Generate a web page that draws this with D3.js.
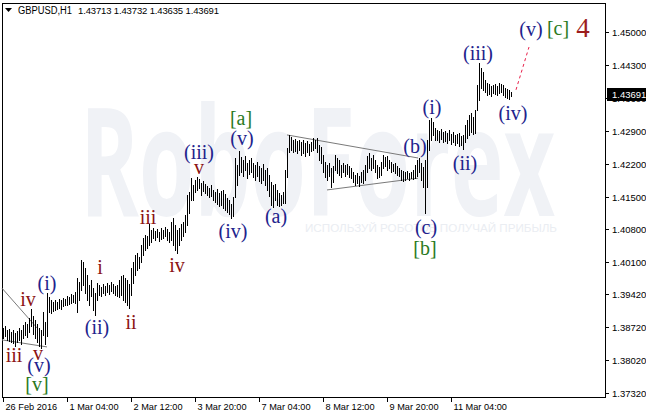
<!DOCTYPE html>
<html>
<head>
<meta charset="utf-8">
<script src="https://cdn.jsdelivr.net/npm/d3@7/dist/d3.min.js"></script>
<style>
  body { margin: 0; background: #fff; }
  svg { display: block; }
</style>
</head>
<body>
<div id="chart"></div>
<script>
// GBPUSD H1 bars, high/low of each hour
var highs = [
  1.3870,1.3874,1.3866,1.3868,1.3862,1.3866,1.3860,1.3864,1.3870,1.3866,
  1.3877,1.3883,1.3879,1.3891,1.3911,1.3896,1.3887,1.3879,1.3870,1.3866,
  1.3904,1.3883,1.3945,1.3936,1.3930,1.3926,1.3930,1.3926,1.3932,1.3930,
  1.3934,1.3932,1.3938,1.3936,1.3943,1.3940,1.3947,1.3977,1.3968,1.4015,
  1.4011,1.3998,1.3983,1.3962,1.3972,1.3955,1.3945,1.3966,1.3962,1.3957,
  1.3964,1.3960,1.3966,1.3962,1.3968,1.3964,1.3960,1.3962,1.3972,1.3981,
  1.3983,1.3977,1.3972,1.3964,1.3998,1.4011,1.4026,1.4030,1.4021,1.4047,
  1.4062,1.4068,1.4066,1.4091,1.4079,1.4083,1.4077,1.4081,1.4074,1.4083,
  1.4079,1.4085,1.4081,1.4074,1.4096,1.4104,1.4089,1.4079,1.4083,1.4091,
  1.4096,1.4111,1.4153,1.4160,1.4189,1.4174,1.4185,1.4192,1.4187,1.4179,
  1.4183,1.4177,1.4172,1.4168,1.4174,1.4164,1.4160,1.4166,1.4157,1.4162,
  1.4164,1.4155,1.4147,1.4143,1.4134,1.4149,1.4232,1.4217,1.4247,1.4234,
  1.4228,1.4236,1.4221,1.4228,1.4232,1.4221,1.4217,1.4223,1.4215,1.4211,
  1.4219,1.4206,1.4211,1.4196,1.4181,1.4174,1.4177,1.4164,1.4157,1.4153,
  1.4160,1.4206,1.4253,1.4281,1.4277,1.4270,1.4272,1.4268,1.4270,1.4266,
  1.4270,1.4264,1.4268,1.4262,1.4266,1.4274,1.4270,1.4274,1.4260,1.4255,
  1.4238,1.4223,1.4217,1.4221,1.4211,1.4215,1.4238,1.4232,1.4228,1.4217,
  1.4221,1.4217,1.4219,1.4215,1.4211,1.4202,1.4196,1.4200,1.4194,1.4202,
  1.4206,1.4217,1.4236,1.4243,1.4232,1.4238,1.4228,1.4217,1.4213,1.4223,
  1.4238,1.4234,1.4236,1.4228,1.4223,1.4219,1.4221,1.4215,1.4211,1.4206,
  1.4204,1.4202,1.4204,1.4200,1.4202,1.4206,1.4217,1.4228,1.4232,1.4221,
  1.4213,1.4228,1.4270,1.4313,1.4317,1.4308,1.4296,1.4291,1.4289,1.4294,
  1.4287,1.4289,1.4285,1.4291,1.4283,1.4287,1.4281,1.4283,1.4285,1.4279,
  1.4281,1.4302,1.4313,1.4323,1.4328,1.4319,1.4334,1.4387,1.4434,1.4423,
  1.4415,1.4398,1.4391,1.4389,1.4385,1.4387,1.4389,1.4385,1.4391,1.4389,
  1.4387,1.4381,1.4379,1.4377,1.43732
];
var lows = [
  1.3849,1.3853,1.3845,1.3843,1.3840,1.3838,1.3832,1.3840,1.3845,1.3836,
  1.3849,1.3855,1.3851,1.3862,1.3874,1.3857,1.3849,1.3840,1.3832,1.3828,
  1.3855,1.3836,1.3853,1.3904,1.3902,1.3906,1.3909,1.3911,1.3913,1.3911,
  1.3917,1.3919,1.3919,1.3921,1.3923,1.3926,1.3923,1.3904,1.3930,1.3951,
  1.3962,1.3945,1.3930,1.3919,1.3938,1.3909,1.3898,1.3930,1.3940,1.3938,
  1.3945,1.3940,1.3947,1.3943,1.3949,1.3945,1.3940,1.3938,1.3936,1.3940,
  1.3930,1.3926,1.3919,1.3913,1.3940,1.3966,1.3983,1.3994,1.3998,1.4011,
  1.4026,1.4036,1.4040,1.4047,1.4053,1.4062,1.4057,1.4064,1.4055,1.4060,
  1.4062,1.4066,1.4057,1.4053,1.4057,1.4047,1.4036,1.4030,1.4047,1.4057,
  1.4066,1.4074,1.4089,1.4115,1.4143,1.4143,1.4160,1.4164,1.4168,1.4153,
  1.4162,1.4157,1.4153,1.4149,1.4151,1.4143,1.4138,1.4134,1.4130,1.4132,
  1.4126,1.4121,1.4117,1.4113,1.4104,1.4109,1.4149,1.4174,1.4196,1.4202,
  1.4194,1.4206,1.4189,1.4198,1.4202,1.4192,1.4185,1.4194,1.4183,1.4179,
  1.4185,1.4174,1.4164,1.4151,1.4132,1.4128,1.4143,1.4132,1.4130,1.4132,
  1.4136,1.4136,1.4192,1.4245,1.4249,1.4245,1.4247,1.4243,1.4249,1.4238,
  1.4243,1.4236,1.4245,1.4238,1.4247,1.4249,1.4253,1.4245,1.4228,1.4221,
  1.4202,1.4192,1.4185,1.4194,1.4170,1.4181,1.4206,1.4200,1.4196,1.4192,
  1.4202,1.4194,1.4198,1.4192,1.4189,1.4181,1.4174,1.4179,1.4172,1.4181,
  1.4179,1.4185,1.4202,1.4211,1.4206,1.4211,1.4202,1.4189,1.4192,1.4196,
  1.4211,1.4215,1.4206,1.4211,1.4202,1.4204,1.4200,1.4196,1.4194,1.4185,
  1.4183,1.4185,1.4189,1.4185,1.4189,1.4187,1.4189,1.4194,1.4202,1.4185,
  1.4170,1.4115,1.4170,1.4249,1.4270,1.4281,1.4270,1.4270,1.4266,1.4272,
  1.4266,1.4268,1.4264,1.4270,1.4262,1.4266,1.4260,1.4264,1.4257,1.4260,
  1.4251,1.4266,1.4274,1.4281,1.4287,1.4283,1.4285,1.4334,1.4355,1.4381,
  1.4377,1.4372,1.4366,1.4368,1.4364,1.4370,1.4368,1.4366,1.4370,1.4372,
  1.4366,1.4362,1.4360,1.4357,1.43635
];

var symbol = "GBPUSD,H1";
var ohlc = ["1.43713", "1.43732", "1.43635", "1.43691"];
var lastPrice = 1.43691;

// price axis
var priceTicks = [1.4500, 1.4430, 1.4360, 1.4290, 1.4220, 1.4150, 1.4080, 1.4010, 1.3942, 1.3872, 1.3802, 1.3732];

// time axis: bar index of each label
var timeTickBars = [0, 32, 64, 96, 128, 160, 192, 224];
var timeTickLabels = ["26 Feb 2016", "1 Mar 04:00", "2 Mar 12:00", "3 Mar 20:00", "7 Mar 04:00", "8 Mar 12:00", "9 Mar 20:00", "11 Mar 04:00"];

// Elliott wave marks: text, bar index, price level, kind
var waveText  = ["iii", "v", "(v)", "[v]", "iv", "(i)", "i", "(ii)", "ii", "iii", "iv", "v", "(iii)", "(iv)", "(v)", "[a]", "(a)", "(b)", "(c)", "[b]", "(i)", "(ii)", "(iii)", "(iv)", "(v)", "[c]", "4"];
var waveBar   = [5.5, 17.5, 18, 17, 12.5, 22, 48.5, 47, 64, 72.5, 87, 98, 98, 115, 119.5, 119, 136.5, 206, 211.5, 211, 214.5, 231, 237.5, 255, 264, 277.5, 290];
var wavePrice = [1.3813, 1.3817, 1.3791, 1.3751, 1.3932, 1.3966, 1.4000, 1.3872, 1.3883, 1.4107, 1.4004, 1.4213, 1.4245, 1.4077, 1.4274, 1.4317, 1.4109, 1.4257, 1.4085, 1.4040, 1.4340, 1.4221, 1.4456, 1.4328, 1.4506, 1.4508, 1.4508];
var waveKind  = ["minor", "minor", "minute", "minuette", "minor", "minute", "minor", "minute", "minor", "minor", "minor", "minor", "minute", "minute", "minute", "minuette", "minute", "minute", "minute", "minuette", "minute", "minute", "minute", "minute", "minute", "minuette", "big"];

// trend lines [bar1, price1, bar2, price2]
var trendLines = [
  [-0.5, 1.3955, 17.5, 1.3868],
  [-0.5, 1.3845, 22, 1.3830],
  [142, 1.4281, 207.5, 1.4232],
  [162, 1.4164, 207.5, 1.4189]
];
var forecast = [256.5, 1.4377, 263, 1.4468];

var W = 646, H = 414;
var frame = { left: 2, top: 3, right: 605, bottom: 397 };

var svg = d3.select("#chart").append("svg")
    .attr("width", W)
    .attr("height", H)
    .style("font-family", "'Liberation Sans', Arial, sans-serif");

svg.append("rect").attr("width", W).attr("height", H).attr("fill", "#fff");

var x = d3.scaleLinear().domain([0, 254]).range([3, 511]);
var y = d3.scaleLinear().domain([1.3732, 1.4500]).range([393, 32]);

// watermark
svg.append("text")
    .attr("x", 80).attr("y", 216)
    .attr("textLength", 475).attr("lengthAdjust", "spacingAndGlyphs")
    .style("font-family", "'Open Sans', sans-serif")
    .style("font-weight", 700)
    .style("font-size", "150px")
    .attr("fill", "#f0f2f6")
    .text("RoboForex");
svg.append("text")
    .attr("x", 305).attr("y", 232)
    .attr("textLength", 252).attr("lengthAdjust", "spacingAndGlyphs")
    .style("font-size", "11px")
    .attr("fill", "#eaedf2")
    .text("ИСПОЛЬЗУЙ РОБОТОВ ПОЛУЧАЙ ПРИБЫЛЬ");

// frame
svg.append("rect")
    .attr("x", frame.left + 0.5).attr("y", frame.top + 0.5)
    .attr("width", frame.right - frame.left).attr("height", frame.bottom - frame.top)
    .attr("fill", "none").attr("stroke", "#000");

// price axis
var yAxis = svg.append("g");
priceTicks.forEach(function (p) {
    var ty = Math.round(y(p)) + 0.5;
    yAxis.append("line")
        .attr("x1", frame.right).attr("x2", frame.right + 4)
        .attr("y1", ty).attr("y2", ty)
        .attr("stroke", "#000");
    yAxis.append("text")
        .attr("x", frame.right + 7).attr("y", ty + 3.5)
        .style("font-size", "9.5px")
        .text(p.toFixed(5));
});

// time axis
var xAxis = svg.append("g");
timeTickBars.forEach(function (b, i) {
    var tx = Math.round(x(b)) + 0.5;
    xAxis.append("line")
        .attr("x1", tx).attr("x2", tx)
        .attr("y1", frame.bottom).attr("y2", frame.bottom + 5)
        .attr("stroke", "#000");
    xAxis.append("text")
        .attr("x", tx + 2).attr("y", frame.bottom + 13)
        .style("font-size", "9.2px")
        .text(timeTickLabels[i]);
});

// trend lines
svg.append("g").selectAll("line")
    .data(trendLines)
    .enter().append("line")
    .attr("x1", function (d) { return x(d[0]); })
    .attr("y1", function (d) { return y(d[1]); })
    .attr("x2", function (d) { return x(d[2]); })
    .attr("y2", function (d) { return y(d[3]); })
    .attr("stroke", "#7a7a7a")
    .attr("stroke-width", 1);

// bars
svg.append("g").selectAll("line")
    .data(highs)
    .enter().append("line")
    .attr("x1", function (d, i) { return Math.round(x(i)) + 0.5; })
    .attr("x2", function (d, i) { return Math.round(x(i)) + 0.5; })
    .attr("y1", function (d) { return Math.round(y(d)); })
    .attr("y2", function (d, i) { return Math.round(y(lows[i])) + 1; })
    .attr("stroke", "#000")
    .attr("stroke-width", 1);

// forecast
svg.append("line")
    .attr("x1", x(forecast[0])).attr("y1", y(forecast[1]))
    .attr("x2", x(forecast[2])).attr("y2", y(forecast[3]))
    .attr("stroke", "#e8204a")
    .attr("stroke-dasharray", "3,3");

// wave labels
var waveColor = { minor: "#8b1313", minute: "#22228c", minuette: "#2a7a22", big: "#9c1c1c" };
var waveSize = { minor: 20, minute: 20, minuette: 20, big: 27 };
svg.append("g").selectAll("text")
    .data(waveText)
    .enter().append("text")
    .attr("x", function (d, i) { return x(waveBar[i]); })
    .attr("y", function (d, i) { return y(wavePrice[i]); })
    .attr("text-anchor", "middle")
    .attr("dominant-baseline", "central")
    .style("font-family", "'Liberation Serif', 'Times New Roman', serif")
    .style("font-size", function (d, i) { return waveSize[waveKind[i]] + "px"; })
    .attr("fill", function (d, i) { return waveColor[waveKind[i]]; })
    .text(function (d) { return d; });

// last price box
var ly = Math.round(y(lastPrice));
svg.append("rect")
    .attr("x", frame.right + 2).attr("y", ly - 6)
    .attr("width", 40).attr("height", 13)
    .attr("fill", "#000");
svg.append("text")
    .attr("x", frame.right + 7).attr("y", ly + 4)
    .style("font-size", "9.5px")
    .attr("fill", "#fff")
    .text(lastPrice.toFixed(5));

// header
svg.append("path")
    .attr("d", "M5,8 L12,8 L8.5,12 Z")
    .attr("fill", "#000");
svg.append("text")
    .attr("x", 18).attr("y", 14)
    .attr("textLength", 54).attr("lengthAdjust", "spacingAndGlyphs")
    .style("font-size", "10px")
    .text(symbol);
svg.append("text")
    .attr("x", 78).attr("y", 14)
    .attr("textLength", 141).attr("lengthAdjust", "spacing")
    .style("font-size", "9.5px")
    .text(ohlc.join(" "));
</script>
</body>
</html>
